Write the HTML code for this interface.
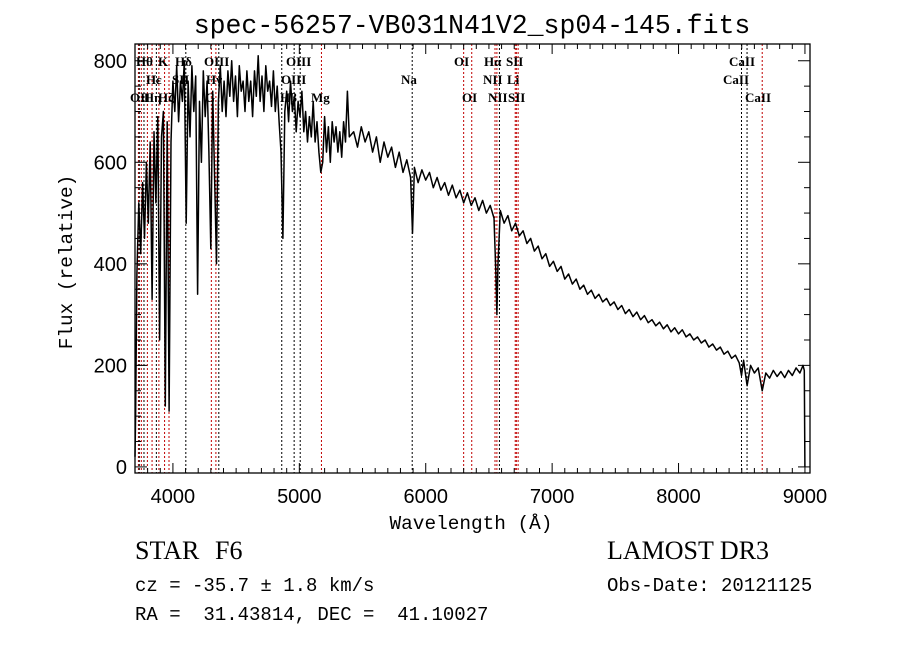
<!DOCTYPE html>
<html><head><meta charset="utf-8"><style>
body{margin:0;background:#fff;}
svg{display:block;font-family:"Liberation Mono",monospace;}
.lt{font-family:"Liberation Serif",serif;font-size:13px;font-weight:bold;}
.tk{font-family:"Liberation Sans",sans-serif;font-size:20px;}
</style></head><body>
<svg id="chart" width="900" height="649" viewBox="0 0 900 649">
<rect width="900" height="649" fill="#fff"/>
<text x="472" y="33" font-size="26.5" text-anchor="middle">spec-56257-VB031N41V2_sp04-145.fits</text>
<g id="lines"></g>
<g id="spec"></g>
<g id="axes"></g>
<text x="471" y="529" font-size="19.4" text-anchor="middle">Wavelength (Å)</text>
<text transform="translate(72,262) rotate(-90)" font-size="19.4" text-anchor="middle">Flux (relative)</text>
<text x="135" y="559" font-size="26" font-family="Liberation Serif,serif">STAR</text>
<text x="215" y="559" font-size="26" font-family="Liberation Serif,serif">F6</text>
<text x="607" y="559" font-size="26" font-family="Liberation Serif,serif">LAMOST DR3</text>
<text x="135" y="591" font-size="19" xml:space="preserve">cz = -35.7 ± 1.8 km/s</text>
<text x="607" y="591" font-size="19">Obs-Date: 20121125</text>
<text x="135" y="620" font-size="19" xml:space="preserve">RA =  31.43814, DEC =  41.10027</text>
</svg>
<script>
const wavelengths=[3700,3705,3715,3730,3745,3760,3775,3790,3805,3820,3835,3850,3865,3880,3895,3910,3925,3940,3955,3970,3985,4000,4015,4030,4045,4060,4075,4090,4105,4120,4135,4150,4165,4180,4195,4210,4225,4240,4255,4270,4285,4300,4315,4330,4345,4360,4375,4390,4405,4420,4435,4450,4465,4480,4495,4510,4525,4540,4555,4570,4585,4600,4615,4630,4645,4660,4675,4690,4705,4720,4735,4750,4765,4780,4795,4810,4825,4840,4855,4870,4885,4900,4915,4930,4945,4960,4975,4990,5005,5020,5035,5050,5065,5080,5095,5110,5125,5140,5155,5170,5185,5200,5215,5230,5245,5260,5275,5290,5305,5320,5335,5350,5365,5380,5395,5430,5460,5490,5520,5550,5580,5610,5640,5670,5700,5730,5760,5790,5820,5850,5880,5895,5910,5940,5970,6000,6030,6060,6090,6120,6150,6180,6210,6240,6270,6300,6330,6360,6390,6420,6450,6480,6510,6540,6555,6563,6572,6590,6620,6650,6680,6710,6740,6770,6800,6830,6860,6890,6920,6950,6980,7010,7040,7070,7100,7130,7160,7190,7220,7250,7280,7310,7340,7370,7400,7430,7460,7490,7520,7550,7580,7610,7640,7670,7700,7730,7760,7790,7820,7850,7880,7910,7940,7970,8000,8030,8060,8090,8120,8150,8180,8210,8240,8270,8300,8330,8360,8390,8420,8450,8480,8498,8515,8542,8570,8600,8630,8662,8690,8720,8750,8780,8810,8840,8870,8900,8930,8960,8985,8995,9000];
const fluxes=[20,100,380,520,420,560,450,600,480,640,330,660,520,690,250,650,700,120,680,110,640,760,700,790,680,760,720,800,480,760,650,790,700,770,340,720,600,780,690,760,620,430,740,570,400,720,790,700,760,690,780,730,800,720,770,690,790,740,760,700,780,720,760,690,780,730,810,720,770,700,790,740,760,710,780,700,750,680,620,450,700,740,680,760,700,730,660,720,690,740,660,700,640,690,650,720,640,680,620,580,600,690,620,670,600,680,640,670,620,660,610,680,640,740,650,660,630,670,640,660,620,650,600,640,610,630,590,620,580,605,570,460,590,560,585,565,580,550,570,545,560,535,555,530,545,520,540,515,530,505,525,500,515,490,380,300,400,505,480,495,465,480,455,465,440,450,425,435,410,420,395,405,385,395,370,380,360,370,350,358,340,348,332,340,325,332,318,325,310,318,302,310,296,305,290,298,284,290,278,285,272,280,266,274,262,270,256,262,250,256,244,250,236,242,230,236,222,228,214,220,205,180,210,160,200,185,195,150,185,175,190,178,188,176,190,180,195,185,200,190,0];
const lineWl=[3727,3734,3750,3771,3798,3835,3869,3889,3934,3969,4102,4304,4340,4363,4861,4959,5007,5175,5893,6300,6364,6548,6563,6583,6708,6717,6731,8498,8542,8662];
const lineRed=[1,0,1,0,1,1,0,1,1,1,0,1,1,0,0,0,0,1,0,1,1,1,1,0,1,1,1,0,0,1];
const lineLabels=[["OII",130,97],["Hθ",136,61],["Hη",144,97],["Hε",146,79],["K",158,61],["Hζ",158,97],["Hδ",175,61],["SII",172,79],["OIII",204,61],["Hγ",206,79],["G",205,97],["OIII",286,61],["OIII",281,79],["Hβ",280,97],["Mg",311,97],["Na",401,79],["OI",454,61],["OI",462,97],["Hα",484,61],["SII",506,61],["NII",483,79],["Li",507,79],["NII",488,97],["SII",508,97],["CaII",729,61],["CaII",723,79],["CaII",745,97]];
const xTicks=[4000,5000,6000,7000,8000,9000];
const yTicks=[0,200,400,600,800];

const X0=135,X1=810,Y0=44,Y1=473;
const wMin=3700,wMax=9040,fMin=-12,fMax=833;
function xs(w){return X0+(w-wMin)/(wMax-wMin)*(X1-X0);}
function ys(f){return Y1-(f-fMin)/(fMax-fMin)*(Y1-Y0);}
const NS="http://www.w3.org/2000/svg";
function mk(t,a,p){const e=document.createElementNS(NS,t);for(const k in a)e.setAttribute(k,a[k]);p.appendChild(e);return e;}

const L=document.getElementById('lines');
lineWl.forEach((w,i)=>{
  const l=mk('line',{x1:xs(w),x2:xs(w),y1:Y0,y2:Y1,stroke:lineRed[i]?'#c00000':'#000','stroke-width':1,'stroke-dasharray':'2,2'},L);
  
  
});
lineLabels.forEach(d=>{
  const t=mk('text',{x:d[1],y:d[2]+5,class:'lt'},L);t.textContent=d[0];
  
  
});

const S=document.getElementById('spec');
let pts=wavelengths.map((w,i)=>xs(w).toFixed(1)+','+ys(fluxes[i]).toFixed(1)).join(' ');
const pl=mk('polyline',{points:pts,fill:'none',stroke:'#000','stroke-width':1.5,'stroke-linejoin':'round'},S);



const A=document.getElementById('axes');
const fr=mk('rect',{x:X0,y:Y0,width:X1-X0,height:Y1-Y0,fill:'none',stroke:'#000','stroke-width':1.3},A);


for(let w=3700;w<=9000;w+=100){
  const len=(w%1000===0)?10:5;
  mk('line',{x1:xs(w),x2:xs(w),y1:Y1,y2:Y1-len,stroke:'#000'},A);
  mk('line',{x1:xs(w),x2:xs(w),y1:Y0,y2:Y0+len,stroke:'#000'},A);
}
xTicks.forEach(w=>{
  const t=mk('text',{x:xs(w),y:503,class:'tk','text-anchor':'middle'},A);t.textContent=w;
  
  
});
for(let f=0;f<=800;f+=50){
  const len=(f%200===0)?12:6;
  mk('line',{x1:X0,x2:X0+len,y1:ys(f),y2:ys(f),stroke:'#000'},A);
  mk('line',{x1:X1,x2:X1-len,y1:ys(f),y2:ys(f),stroke:'#000'},A);
}
yTicks.forEach(f=>{
  const t=mk('text',{x:X0-8,y:ys(f)+7,class:'tk','text-anchor':'end'},A);t.textContent=f;
  
  
});
</script>
</body></html>
